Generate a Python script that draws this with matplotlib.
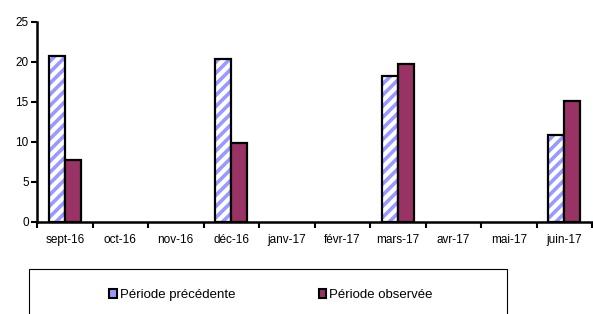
import numpy as np
import matplotlib
matplotlib.use("Agg")
import matplotlib.pyplot as plt
from matplotlib.patches import Rectangle, Patch

plt.rcParams['font.family'] = ['Liberation Sans', 'DejaVu Sans']

months = ['sept-16', 'oct-16', 'nov-16', 'déc-16', 'janv-17', 'févr-17',
          'mars-17', 'avr-17', 'mai-17', 'juin-17']
prev = [20.8, np.nan, np.nan, 20.4, np.nan, np.nan, 18.3, np.nan, np.nan, 10.9]
obs = [7.8, np.nan, np.nan, 9.9, np.nan, np.nan, 19.8, np.nan, np.nan, 15.1]

fig = plt.figure(figsize=(5.93, 3.14), dpi=100)
ax = fig.add_axes([0.0624, 0.293, 0.936, 0.637])

x = np.arange(len(months))
w = 0.29
# hatched fill first, then black outline on top
plt.rcParams['hatch.linewidth'] = 2.6
ax.bar(x - w/2, prev, w, color='white', edgecolor='#9999FF', hatch='///', linewidth=0)
ax.bar(x - w/2, prev, w, fill=False, edgecolor='black', linewidth=1.6)
ax.bar(x + w/2, obs, w, color='#993366', edgecolor='black', linewidth=1.6)

ax.set_xlim(-0.5, len(months) - 0.5)
ax.set_ylim(0, 25)
ax.set_yticks([0, 5, 10, 15, 20, 25])
ax.set_xticks(x)
ax.set_xticklabels(months)
ax.set_xticks(np.arange(-0.5, len(months)), minor=True)
ax.tick_params(axis='x', which='major', length=0, labelsize=8.5, pad=9)
ax.tick_params(axis='x', which='minor', length=4, width=1.5, direction='out')
ax.tick_params(axis='y', length=4, width=1.5, labelsize=8.5, direction='out', pad=2)
for s in ['top', 'right']:
    ax.spines[s].set_visible(False)
for s in ['left', 'bottom']:
    ax.spines[s].set_linewidth(1.8)

# legend box (bottom part falls outside the picture)
fig.patches.append(Rectangle((0.049, -0.2), 0.806, 0.343, transform=fig.transFigure,
                             fill=False, edgecolor='black', linewidth=0.8))
handles = [Patch(facecolor='#9999FF', edgecolor='black', linewidth=1.5),
           Patch(facecolor='#993366', edgecolor='black', linewidth=1.5)]
fig.legend(handles, ['Période précédente', 'Période observée'], loc='center',
           bbox_to_anchor=(0.457, 0.06), ncol=2, frameon=False, fontsize=9.5,
           handlelength=0.6, handleheight=0.6, handletextpad=0.2, columnspacing=6.3)

fig.savefig('out.png', dpi=100)
